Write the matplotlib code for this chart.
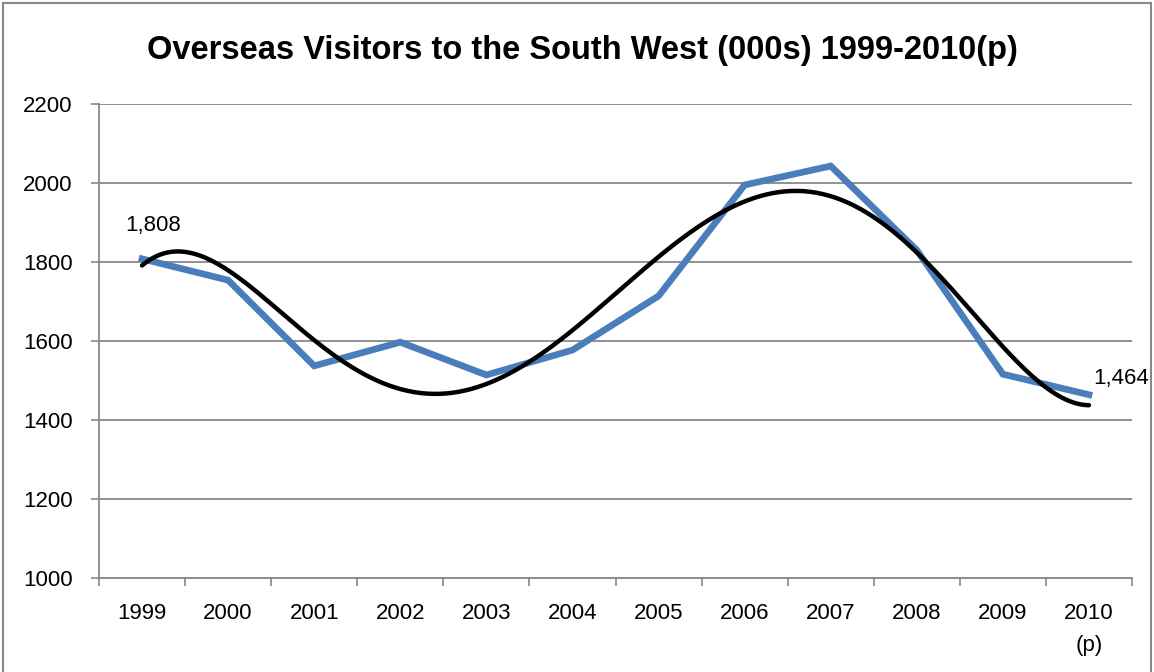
import numpy as np
import matplotlib
matplotlib.use("Agg")
import matplotlib.pyplot as plt
from matplotlib.patches import Rectangle

# ── Data ──────────────────────────────────────────────────────────
years = ["1999", "2000", "2001", "2002", "2003", "2004",
         "2005", "2006", "2007", "2008", "2009", "2010\n(p)"]
visitors = [1808, 1754, 1537, 1597, 1514, 1577,
            1714, 1995, 2043, 1830, 1516, 1464]
trend_order = 5

plt.rcParams["font.family"] = ["Liberation Sans", "DejaVu Sans"]

fig = plt.figure(figsize=(11.54, 6.72), dpi=100)
fig.patches.append(Rectangle((0.003, -0.01), 0.994, 1.005, transform=fig.transFigure,
                             fill=False, edgecolor="#888888", lw=1.5))
ax = fig.add_axes([99/1154, 1 - 578/672, (1132 - 99)/1154, (578 - 104)/672])

x = np.arange(len(years))
ax.plot(x, visitors, color="#4A7EBB", lw=4.8, solid_joinstyle="miter", zorder=3)

# polynomial trendline (as in the spreadsheet)
coef = np.polyfit(x, visitors, trend_order)
xs = np.linspace(x[0], x[-1], 300)
ax.plot(xs, np.polyval(coef, xs), color="black", lw=3.2, zorder=4,
        solid_capstyle="round")

ax.annotate(f"{visitors[0]:,}", (x[0], visitors[0]), xytext=(-12, 20),
            textcoords="offset points", fontsize=16)
ax.annotate(f"{visitors[-1]:,}", (x[-1], visitors[-1]), xytext=(3, 8),
            textcoords="offset points", fontsize=16)

ax.set_xlim(-0.5, len(years) - 0.5)
ax.set_ylim(1000, 2200)
ax.set_yticks(range(1000, 2201, 200))
ax.set_xticks(np.arange(-0.5, len(years), 1.0), minor=False)
ax.set_xticklabels([])
ax.set_xticks(x, minor=True)
ax.set_xticklabels(years, minor=True, linespacing=1.7)
ax.tick_params(axis="x", which="major", length=6, color="#888888", width=1.2)
ax.tick_params(axis="x", which="minor", length=0, pad=18, labelsize=16)
ax.tick_params(axis="y", length=6, color="#888888", width=1.2, labelsize=16, pad=13)
ax.grid(axis="y", color="#888888", lw=1.3)
ax.set_axisbelow(True)
for s in ["top", "right"]:
    ax.spines[s].set_visible(False)
for s in ["left", "bottom"]:
    ax.spines[s].set_color("#888888")
    ax.spines[s].set_linewidth(1.3)

fig.text(582/1154, 1 - 50/672, "Overseas Visitors to the South West (000s) 1999-2010(p)",
         ha="center", va="center", fontsize=23.5, fontweight="bold")

fig.savefig("out.png", dpi=100)
